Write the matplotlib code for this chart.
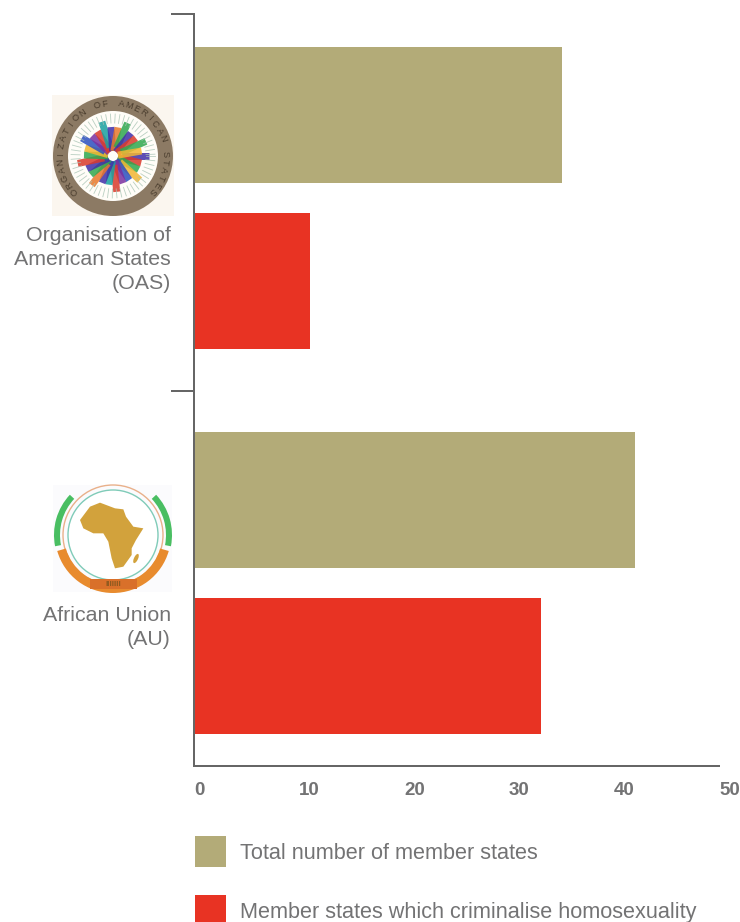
import numpy as np
import matplotlib
matplotlib.use("Agg")
import matplotlib.pyplot as plt
from matplotlib.patches import Circle, Polygon, Rectangle, Wedge, Ellipse
from matplotlib.legend_handler import HandlerPatch

# ---- data ----
organisations = ["Organisation of\nAmerican States\n(OAS)", "African Union\n(AU)"]
total_members = [35, 42]
criminalising = [11, 33]
series_names = ["Total number of member states", "Member states which criminalise homosexuality"]
x_ticks = [0, 10, 20, 30, 40, 50]

# ---- layout (pixel geometry of the reference) ----
W, H = 740, 922
OLIVE, RED, GREY, AXIS = "#B3AB78", "#E83323", "#737374", "#666666"
plt.rcParams["font.family"] = ["Liberation Sans", "DejaVu Sans"]
PT = 72 / 100  # points per pixel at dpi 100
LABEL_FS = 15.4
LEGEND_FS = 15.55

fig = plt.figure(figsize=(W / 100, H / 100), dpi=100, facecolor="white")
ax = fig.add_axes([194 / W, 1 - 766 / H, (719 - 194) / W, (766 - 14) / H])
ax.set_xlim(0, 50)
ax.set_ylim(766, 14)
bar_h = 136
total_y = [115, 500]
crim_y = [281, 666]
b1 = ax.barh(total_y, total_members, height=bar_h, color=OLIVE, linewidth=0, label=series_names[0])
b2 = ax.barh(crim_y, criminalising, height=bar_h, color=RED, linewidth=0, label=series_names[1])

for s in ("top", "right"):
    ax.spines[s].set_visible(False)
for s in ("left", "bottom"):
    ax.spines[s].set_color(AXIS)
    ax.spines[s].set_linewidth(2 * PT)

ax.set_xticks(x_ticks)
ax.set_xticklabels([str(v) for v in x_ticks], ha="left", fontweight="bold", fontsize=13.5, color=GREY)
ax.tick_params(axis="x", length=0, pad=16 * PT)

ax.set_yticks([14, 391])
ax.set_yticklabels([])
ax.tick_params(axis="y", which="major", length=23 * PT, width=2 * PT, color=AXIS)
ax.set_yticks([255, 622.5], minor=True)
ax.set_yticklabels(organisations, minor=True, fontsize=LABEL_FS, color=GREY, linespacing=1.34)
ax.tick_params(axis="y", which="minor", length=0, pad=23 * PT)
for lab in ax.get_yticklabels(minor=True):
    lab.set_multialignment("right")


class SquareHandler(HandlerPatch):
    def create_artists(self, legend, orig, xd, yd, width, height, fontsize, trans):
        size = 31 * PT
        r = Rectangle((0, height / 2 - size / 2), size, size, facecolor=orig.get_facecolor(), linewidth=0, transform=trans)
        return [r]


leg = fig.legend(
    [b1[0], b2[0]], series_names,
    loc="upper left", bbox_to_anchor=(195 / W, 1 - 843 / H), borderaxespad=0, borderpad=0,
    frameon=False, fontsize=LEGEND_FS, labelcolor=GREY,
    handlelength=31 * PT / LEGEND_FS, handletextpad=14 * PT / LEGEND_FS, labelspacing=(58 - 20) * PT / LEGEND_FS,
    handler_map={b1[0]: SquareHandler(), b2[0]: SquareHandler()},
)

# ---- emblems, drawn in an overlay with pixel coordinates ----
ov = fig.add_axes([0, 0, 1, 1], facecolor="none")
ov.set_xlim(0, W)
ov.set_ylim(H, 0)
ov.axis("off")

# OAS seal
cx, cy = 113, 156
ov.add_patch(Rectangle((52, 95), 122, 121, facecolor="#FBF6EF", linewidth=0))
ov.add_patch(Circle((cx, cy), 60, facecolor="#8C7A64", linewidth=0))
ov.add_patch(Circle((cx, cy), 45, facecolor="#FFFDF8", linewidth=0))
flag_colors = ["#3F2FA8", "#D93A2B", "#2FA84F", "#F2B632", "#2B4FC0", "#7A2FA0", "#D93A2B", "#18A0A0", "#3F2FA8", "#E8782B", "#2FA84F"]
angles = np.arange(0, 360, 14)
for i, a in enumerate(angles):
    t = np.deg2rad(a)
    c = flag_colors[i % len(flag_colors)]
    r0, r1 = (5, 29) if i % 3 else (9, 36)
    ov.plot([cx + r0 * np.cos(t), cx + r1 * np.cos(t)], [cy + r0 * np.sin(t), cy + r1 * np.sin(t)],
            color=c, lw=7 * PT, solid_capstyle="butt", alpha=0.85)
for a in np.arange(0, 360, 6.5):
    t = np.deg2rad(a)
    ov.plot([cx + 33 * np.cos(t), cx + 42 * np.cos(t)], [cy + 33 * np.sin(t), cy + 42 * np.sin(t)],
            color="#A8C4B4", lw=0.6, alpha=0.8)
seal_text = "ORGANIZATION OF AMERICAN STATES"
seal_angles = np.linspace(222, -42, len(seal_text))
for ch, a in zip(seal_text, seal_angles):
    t = np.deg2rad(a)
    ov.text(cx + 52.5 * np.cos(t), cy - 52.5 * np.sin(t), ch, rotation=a - 90, ha="center", va="center",
            fontsize=6.6, color="#4A3D2E", rotation_mode="anchor")

# AU emblem
ax0, ay0 = 113, 535
ov.add_patch(Rectangle((53, 485), 119, 107, facecolor="#FBFBFD", linewidth=0))
ov.add_patch(Wedge((ax0, ay0), 59, 169, 223, width=6, facecolor="#49BE62", linewidth=0))
ov.add_patch(Wedge((ax0, ay0), 59, -43, 11, width=6, facecolor="#49BE62", linewidth=0))
ov.add_patch(Circle((ax0, ay0), 50, facecolor="none", edgecolor="#E9B08A", linewidth=1))
ov.add_patch(Circle((ax0, ay0), 45, facecolor="white", edgecolor="#7FCBB8", linewidth=1))
ov.add_patch(Wedge((ax0, ay0), 58, 16, 164, width=9, facecolor="#E88B2E", linewidth=0))
ov.add_patch(Rectangle((90, 579), 47, 10, facecolor="#D9702A", linewidth=0))
ov.text(113.5, 584, "IIIIIII", ha="center", va="center", fontsize=6, color="#8F5A20", fontweight="bold")
africa = np.array([(270, 110), (300, 98), (345, 115), (370, 118), (378, 140), (400, 170), (430, 175), (408, 210),
                   (395, 235), (395, 255), (370, 290), (345, 295), (335, 265), (325, 215), (310, 190), (280, 190),
                   (250, 175), (240, 150)], dtype=float)
africa[:, 0] /= 3
africa[:, 1] = africa[:, 1] / 3 + 470
ov.add_patch(Polygon(africa, closed=True, facecolor="#D2A23C", linewidth=0))
ov.add_patch(Ellipse((136, 558.5), 4, 10, angle=25, facecolor="#D2A23C", linewidth=0))

fig.savefig("out.png", dpi=100, facecolor="white")
